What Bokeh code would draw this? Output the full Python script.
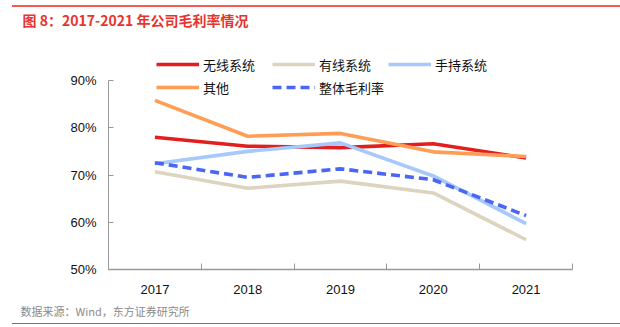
from bokeh.plotting import figure
from bokeh.models import (Legend, LegendItem, FixedTicker, Range1d, Title, Div,
                          PrintfTickFormatter)
from bokeh.layouts import column
from bokeh.embed import file_html
from bokeh.resources import INLINE

years = ["2017", "2018", "2019", "2020", "2021"]
wireless = [78.0, 76.1, 75.8, 76.6, 73.6]
wired = [70.7, 67.2, 68.7, 66.2, 56.3]
handheld = [72.4, 75.0, 76.8, 69.8, 59.7]
other = [85.8, 78.2, 78.8, 74.9, 73.9]
overall = [72.6, 69.5, 71.3, 69.0, 61.4]
y_ticks = [50, 60, 70, 80, 90]
title_text = "图 8：2017-2021 年公司毛利率情况"
source_text = "数据来源：Wind，东方证券研究所"

series = [
    ("无线系统", wireless, "#e31e1e", None),
    ("有线系统", wired, "#ddd4c0", None),
    ("手持系统", handheld, "#a6c8fa", None),
    ("其他", other, "#ff9d55", None),
    ("整体毛利率", overall, "#4a66f2", "9 5"),
]

W = 620
TOP_DIV = 7
BOT_DIV = 4
MAIN_H = 327 - TOP_DIV - BOT_DIV

top_rule = Div(text="", width=W - 12, height=2, margin=(5, 0, 0, 12),
               styles={"background-color": "#f25b55"})
bot_rule = Div(text="", width=W - 12, height=1, margin=(0, 0, 3, 12),
               styles={"background-color": "#e8453c"})

# frame geometry (canvas px)
L, R = 108, 48
frame_top_c = 31
frame_bot_c = 269
px_per_unit = 47.25 / 10.0
y_top = y_ticks[-1] + (80 - frame_top_c) / px_per_unit

p = figure(width=W, height=MAIN_H, output_backend="svg", toolbar_location=None,
           x_range=Range1d(0, len(years)), y_range=Range1d(y_ticks[0], y_top),
           min_border_left=L, min_border_right=R,
           min_border_top=frame_top_c - TOP_DIV,
           min_border_bottom=MAIN_H - (frame_bot_c - TOP_DIV), margin=0)
p.outline_line_color = None
p.grid.visible = False

p.title.text = title_text
p.title.align = "left"
p.title.offset = 22 - L
p.title.standoff = 2
p.title.vertical_align = "middle"
p.title.text_color = "#e8332e"
p.title.text_font = "Noto Sans CJK SC"
p.title.text_font_style = "bold"
p.title.text_font_size = "14px"

xs = [i + 0.5 for i in range(len(years))]
rend = {}
for name, vals, color, dash in series:
    kw = dict(line_dash=dash) if dash else {}
    rend[name] = p.line(xs, vals, line_color=color, line_width=3.6, **kw)

# x axis
p.xaxis.ticker = FixedTicker(ticks=xs, minor_ticks=list(range(len(years) + 1)))
p.xaxis.major_label_overrides = {x: y for x, y in zip(xs, years)}
p.xaxis.major_tick_line_color = None
p.xaxis.minor_tick_in = 6
p.xaxis.minor_tick_out = 0
p.xaxis.minor_tick_line_color = "#999999"
p.xaxis.axis_line_color = "#999999"
p.xaxis.axis_line_width = 1.5
p.xaxis.major_label_standoff = 9
p.xaxis.major_label_text_font = "Liberation Sans"
p.xaxis.major_label_text_font_size = "13px"
p.xaxis.major_label_text_color = "#111111"

# y axis
p.yaxis.ticker = FixedTicker(ticks=y_ticks)
p.yaxis.bounds = (y_ticks[0], y_ticks[-1])
p.yaxis.formatter = PrintfTickFormatter(format="%d%%")
p.yaxis.major_tick_in = 5
p.yaxis.major_tick_out = 0
p.yaxis.minor_tick_line_color = None
p.yaxis.major_tick_line_color = "#999999"
p.yaxis.axis_line_color = "#999999"
p.yaxis.major_label_standoff = 12
p.yaxis.major_label_text_font = "Liberation Sans"
p.yaxis.major_label_text_font_size = "13px"
p.yaxis.major_label_text_color = "#111111"

# legend: bokeh fills column-major, so order items to read row-wise
order = ["无线系统", "其他", "有线系统", "整体毛利率", "手持系统"]
items = [LegendItem(label=n, renderers=[rend[n]]) for n in order]
legend = Legend(items=items, nrows=2, location=(48, 172),
                glyph_width=43, glyph_height=20, label_height=20, label_width=66,
                label_standoff=4, spacing=3, padding=0, margin=0,
                border_line_color=None, background_fill_alpha=0,
                label_text_font="Noto Sans CJK SC", label_text_font_size="13px",
                label_text_color="#111111")
p.add_layout(legend, "center")

src = Title(text=source_text, align="left", offset=20 - L, standoff=9,
            text_color="#8a8a8a", text_font="Noto Sans CJK SC",
            text_font_size="11px", text_font_style="normal")
p.add_layout(src, "below")

layout = column(top_rule, p, bot_rule, spacing=0)
open("out.html", "w").write(file_html(layout, INLINE))
